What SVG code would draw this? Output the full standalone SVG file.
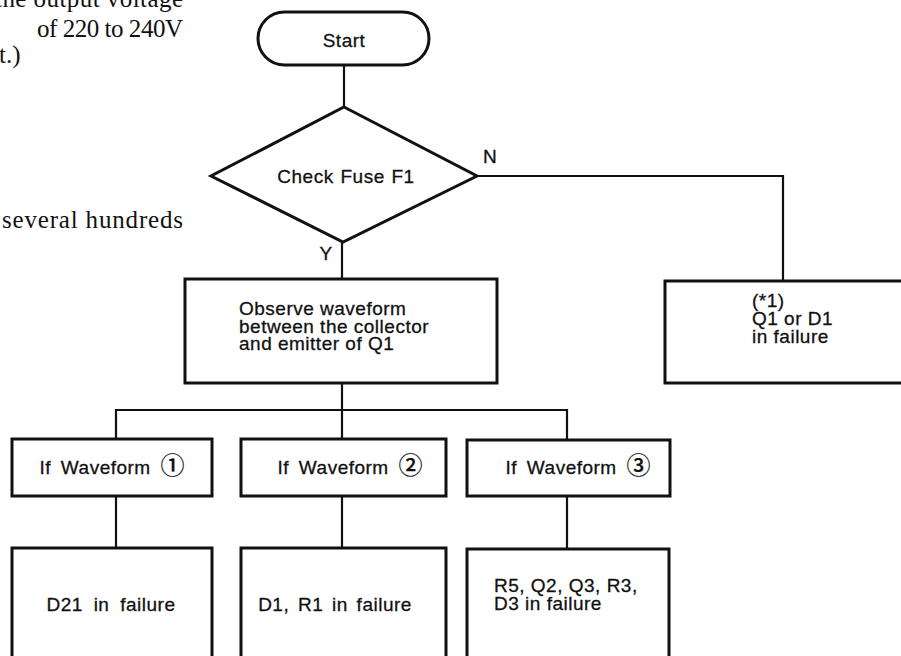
<svg xmlns="http://www.w3.org/2000/svg" width="901" height="656" viewBox="0 0 901 656">
<style>
.bg{fill:#fff}
.box{fill:#fff;stroke:#111;stroke-width:3}
.ln{fill:none;stroke:#111;stroke-width:2.2}
.t{font-family:"Liberation Sans",Arial,sans-serif;font-size:19px;letter-spacing:0.5px;fill:#111;stroke:#111;stroke-width:0.3px}
.c{text-anchor:middle}
.cd{font-family:"Noto Sans CJK JP","DejaVu Sans",sans-serif;font-size:24px;letter-spacing:0;font-weight:500;stroke-width:0.2px}
.s{font-family:"Liberation Serif","Times New Roman",serif;font-size:25px;fill:#111}
</style>
<rect class="bg" x="0" y="0" width="901" height="656"/>
<g id="page-text">
<text class="s" x="183" y="7" text-anchor="end" textLength="188" lengthAdjust="spacing">the output voltage</text>
<text class="s" x="37" y="37" textLength="146" lengthAdjust="spacing">of 220 to 240V</text>
<text class="s" x="-1" y="63">t.)</text>
<text class="s" x="2" y="228" textLength="181" lengthAdjust="spacing">several hundreds</text>
</g>
<g id="connectors">
<path class="ln" d="M344 65 V107"/>
<path class="ln" d="M477 176 H783 V281"/>
<path class="ln" d="M342 242 V279"/>
<path class="ln" d="M342 383 V439"/>
<path class="ln" d="M116 439 V410 H567 V440"/>
<path class="ln" d="M116 496 V548"/>
<path class="ln" d="M342 496 V548"/>
<path class="ln" d="M567 496 V549"/>
<text class="t" x="483" y="163" letter-spacing="0">N</text>
<text class="t c" x="326" y="260" letter-spacing="0">Y</text>
</g>
<g id="start">
<rect class="box" x="258" y="12" width="171" height="53" rx="26.5"/>
<text class="t c" x="344" y="47">Start</text>
</g>
<g id="check-fuse">
<polygon class="box" points="344,107 477,176 343,242 211,176"/>
<text class="t c" x="346" y="183" word-spacing="1">Check Fuse F1</text>
</g>
<g id="observe">
<rect class="box" x="185" y="279" width="312" height="104"/>
<text class="t" x="239" y="315">Observe waveform</text>
<text class="t" x="239" y="332.5">between the collector</text>
<text class="t" x="239" y="350">and emitter of Q1</text>
</g>
<g id="q1-d1">
<rect class="box" x="665" y="281" width="260" height="102"/>
<text class="t" x="752" y="307">(*1)</text>
<text class="t" x="752" y="325">Q1 or D1</text>
<text class="t" x="752" y="343">in failure</text>
</g>
<g id="wave1">
<rect class="box" x="12" y="439" width="200" height="57"/>
<text class="t c" x="112" y="474" word-spacing="4">If Waveform <tspan class="cd">①</tspan></text>
</g>
<g id="wave2">
<rect class="box" x="241" y="439" width="205" height="57"/>
<text class="t c" x="350" y="474" word-spacing="4">If Waveform <tspan class="cd">②</tspan></text>
</g>
<g id="wave3">
<rect class="box" x="467" y="440" width="203" height="56"/>
<text class="t c" x="578" y="474" word-spacing="4">If Waveform <tspan class="cd">③</tspan></text>
</g>
<g id="d21">
<rect class="box" x="12" y="548" width="200" height="130"/>
<text class="t c" x="111" y="611" word-spacing="5">D21 in failure</text>
</g>
<g id="d1-r1">
<rect class="box" x="241" y="548" width="205" height="130"/>
<text class="t c" x="335" y="611" word-spacing="3">D1, R1 in failure</text>
</g>
<g id="r5-d3">
<rect class="box" x="467" y="549" width="202" height="130"/>
<text class="t" x="494" y="592">R5, Q2, Q3, R3,</text>
<text class="t" x="494" y="610">D3 in failure</text>
</g>
</svg>
